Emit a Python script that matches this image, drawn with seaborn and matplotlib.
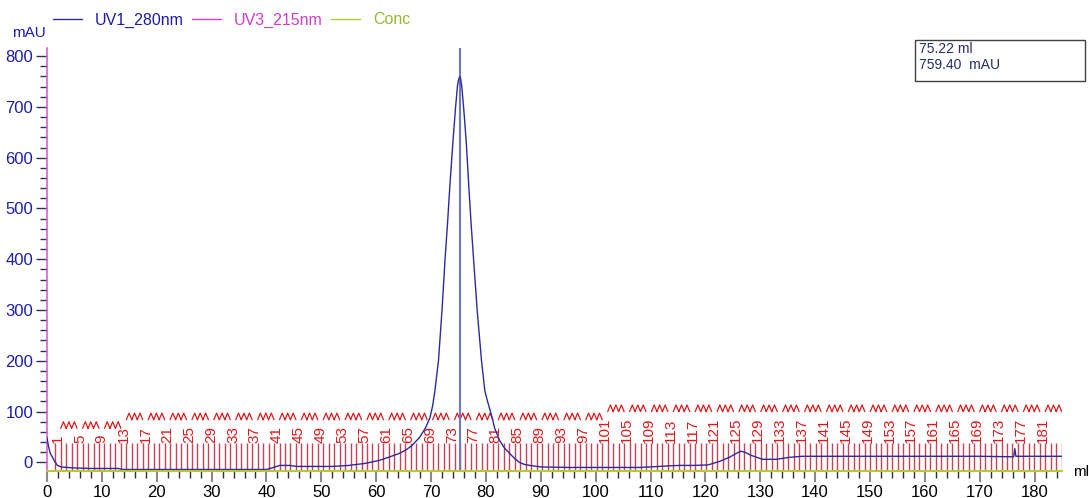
import numpy as np
import pandas as pd
import matplotlib
matplotlib.use("Agg")
import matplotlib.pyplot as plt
import seaborn as sns
from matplotlib.lines import Line2D
from matplotlib.patches import Rectangle
from matplotlib.ticker import MultipleLocator

# ---------------- data ----------------
uv1_ml = [0.0, 0.3, 0.6, 1.0, 1.4, 1.9, 2.6, 3.6, 5.0, 8.0, 13.0, 13.8, 20.0, 30.0,
          40.0, 41.0, 42.4, 44.2, 45.5, 48.0, 52.0, 55.0, 58.0, 60.6, 62.0, 64.3,
          65.5, 66.5, 67.9, 69.0, 69.8, 70.3, 70.7, 71.35, 72.0, 72.55, 73.0, 73.4,
          74.0, 74.45, 74.8, 75.0, 75.22, 75.4, 75.6, 75.95, 76.4, 76.9, 77.3, 77.75,
          78.4, 79.2, 79.8, 80.3, 80.7, 81.2, 81.6, 82.5, 83.4, 84.3, 85.2, 86.1,
          87.0, 88.0, 90.0, 95.0, 100.0, 108.0, 111.6, 113.0, 115.3, 118.0, 120.5,
          122.6, 124.4, 125.5, 126.5, 127.4, 128.3, 130.4, 132.9, 135.4, 137.7, 140.0,
          150.0, 160.0, 170.0, 176.2, 176.4, 176.6, 176.9, 180.0, 185.0]
uv1_mau = [49, 30, 18, 10, 2, -6, -9, -10, -11, -12, -12, -14, -14, -14,
           -14, -11, -6, -6, -8, -8, -8, -6, -2, 4, 9, 18,
           25, 33, 49, 68, 88, 112, 141, 200, 300, 400, 470, 540,
           633, 697, 740, 753, 759.4, 755, 740, 697, 633, 540, 470, 400,
           300, 200, 141, 120, 105, 85, 67, 43, 28, 18, 8, 0,
           -4, -6, -9, -10, -10, -10, -8, -7, -6, -6, -5,
           2, 10, 17, 22, 19, 14, 6, 6, 10, 12, 12,
           12, 12, 12, 11, 27, 12, 12, 12, 12]
assert len(uv1_ml) == len(uv1_mau)

conc_ml = [0.0, 185.0]
conc_pct = [0.0, 0.0]

legend_names = ["UV1_280nm", "UV3_215nm", "Conc"]

frac_first = 1
frac_last = 184
frac_start_ml = 1.5
frac_width_ml = 0.997
frac_label_every = 4
zig_row_first_frac = [1, 13, 101]
zig_row_base = [67, 84, 100]
zig_height = 13

marker_ml = 75.22
marker_mau = 759.40

# ---------------- style ----------------
sns.set_theme(style="white")
plt.rcParams["font.family"] = ["Liberation Sans", "DejaVu Sans"]

C_UV1 = "#2a2aa0"
C_UV3 = "#d23cc8"
C_CONC = "#b4c83a"
C_FRAC = "#c0203a"
C_LABEL = "#e01818"
C_NAVY = "#1c1cb0"

W, H = 1089, 498
fig = plt.figure(figsize=(W / 100, H / 100), dpi=100)
ax = fig.add_axes([47 / W, 27 / H, (1062 - 47) / W, (471 - 48) / H])

XMIN, XMAX = 0, 185
YMIN, YMAX = -17, 816
ax.set_xlim(XMIN, XMAX)
ax.set_ylim(YMIN, YMAX)

# fractions
n_frac = np.arange(frac_first, frac_last + 1)
starts = frac_start_ml + (n_frac - frac_first) * frac_width_ml
centers = starts + frac_width_ml / 2
bounds = np.append(starts, starts[-1] + frac_width_ml)
bounds = bounds[bounds < XMAX]
ax.vlines(bounds, YMIN, 38, color=C_FRAC, lw=1.0, alpha=0.85, zorder=1)

labeled = (n_frac - frac_first) % frac_label_every == 0
for n, c, lab in zip(n_frac, centers, labeled):
    if lab and c < XMAX:
        ax.text(c, 38, str(n), rotation=90, ha="center", va="bottom",
                color=C_LABEL, fontsize=11, zorder=2)

# zigzag marks for unlabeled fractions
zx, zy = [], []
row_edges = zig_row_first_frac + [frac_last + 1]
for r in range(len(zig_row_first_frac)):
    for n, s, c, lab in zip(n_frac, starts, centers, labeled):
        if lab or not (row_edges[r] <= n < row_edges[r + 1]):
            continue
        base = zig_row_base[r]
        zx += [s, c, s + frac_width_ml, np.nan]
        zy += [base, base + zig_height, base, np.nan]
ax.plot(zx, zy, color=C_LABEL, lw=0.9, zorder=2)

# marker line
ax.axvline(marker_ml, color="#7078c4", lw=1.5, zorder=3)

# UV1 trace
df = pd.DataFrame({"ml": uv1_ml, "mAU": uv1_mau})
sns.lineplot(data=df, x="ml", y="mAU", ax=ax, color=C_UV1, lw=1.0,
             estimator=None, sort=False, legend=False, zorder=4)

# Conc trace on its own scale
ax2 = ax.twinx()
ax2.set_ylim(0, 100)
sns.lineplot(x=conc_ml, y=conc_pct, ax=ax2, color=C_CONC, lw=1.5,
             estimator=None, legend=False, clip_on=False)
ax2.set_yticks([])
for s in ax2.spines.values():
    s.set_visible(False)
ax2.set_ylabel("")

# axes styling
ax.set_xlabel("")
ax.set_ylabel("")
for side in ["top", "right"]:
    ax.spines[side].set_visible(False)
ax.spines["left"].set_color("#d860d0")
ax.spines["left"].set_linewidth(1.2)
ax.spines["bottom"].set_color(C_CONC)

ax.xaxis.set_major_locator(MultipleLocator(10))
ax.xaxis.set_minor_locator(MultipleLocator(2))
ax.yaxis.set_major_locator(MultipleLocator(100))
ax.yaxis.set_minor_locator(MultipleLocator(20))
ax.set_yticks(np.arange(0, 801, 100))

ax.tick_params(axis="x", which="major", direction="out", length=8, width=1.5,
               color="#8a8a8a", labelsize=12, labelcolor="black", pad=2, bottom=True)
ax.tick_params(axis="x", which="minor", direction="out", length=5, width=1,
               color="#303030", bottom=True)
ax.tick_params(axis="y", which="major", direction="out", length=8, width=1,
               color="#303060", labelsize=12, labelcolor=C_NAVY, pad=2, left=True)
ax.tick_params(axis="y", which="minor", direction="out", length=5, width=1,
               color="#303060", left=True)
ax.grid(False)

# unit labels
fig.text(29 / W, 1 - 33 / H, "mAU", color=C_NAVY, fontsize=11, ha="center", va="center")
fig.text(1081 / W, 1 - 472 / H, "ml", color="black", fontsize=11, ha="center", va="center")

# legend
handles = [Line2D([], [], color=C_UV1, lw=1),
           Line2D([], [], color=C_UV3, lw=1),
           Line2D([], [], color=C_CONC, lw=1)]
leg = fig.legend(handles, legend_names, loc="center left",
                 bbox_to_anchor=(53 / W, 1 - 20 / H), ncol=3, frameon=False,
                 fontsize=11.5, handlelength=1.8, handletextpad=0.8,
                 columnspacing=0.55, borderpad=0, borderaxespad=0)
for t, c in zip(leg.get_texts(), [C_NAVY, C_UV3, "#98b830"]):
    t.set_color(c)

# cursor readout box
fig.patches.append(Rectangle((915 / W, 1 - 81 / H), 170 / W, 41 / H,
                             transform=fig.transFigure, fill=False,
                             edgecolor="#404040", lw=1))
fig.text(919 / W, 1 - 42 / H, f"{marker_ml:.2f} ml\n{marker_mau:.2f}  mAU",
         color="#2a2a6a", fontsize=10, ha="left", va="top", linespacing=1.2)

fig.savefig("out.png", dpi=100)
